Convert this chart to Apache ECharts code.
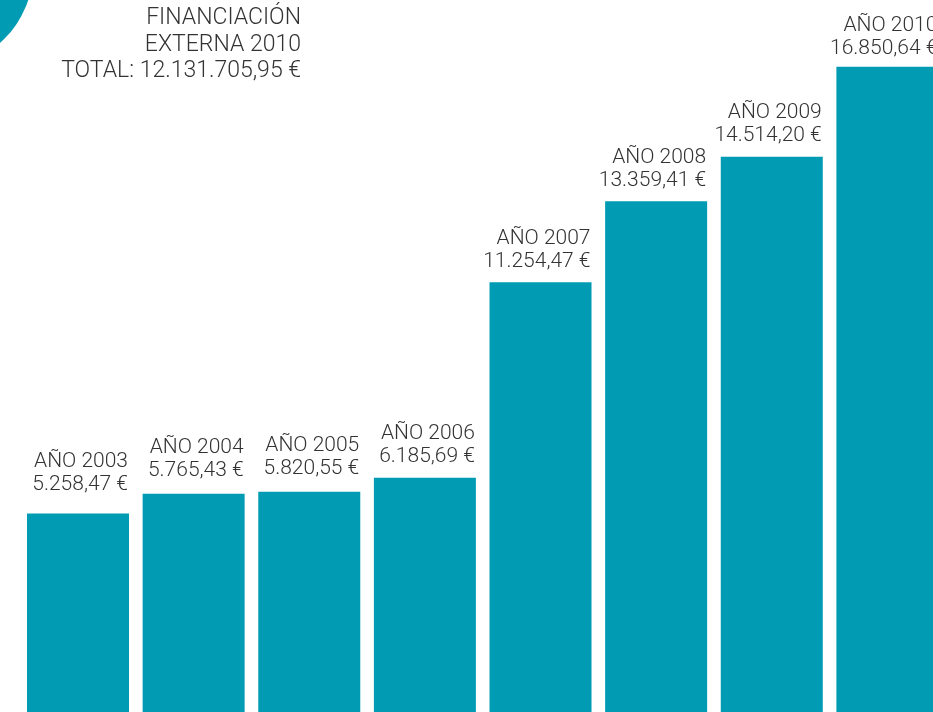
<!DOCTYPE html>
<html>
<head>
<meta charset="utf-8">
<style>html,body{margin:0;padding:0;background:#fff;overflow:hidden;width:933px;height:712px;}#c{width:960px;height:730px;}</style>
<script src="https://cdn.jsdelivr.net/npm/echarts@6/dist/echarts.min.js"></script>
</head>
<body>
<div id="c"></div>
<script>
const years = ['2003', '2004', '2005', '2006', '2007', '2008', '2009', '2010'];
const values = [5258.47, 5765.43, 5820.55, 6185.69, 11254.47, 13359.41, 14514.20, 16850.64];
const titleLines = ['FINANCIACIÓN', 'EXTERNA 2010', 'TOTAL: 12.131.705,95 €'];
const yearPrefix = 'AÑO ';

// layout only: gap in px between bar top and the value line of each label
const labelGap = [31, 26, 25, 23, 23, 23, 24, 20];

function fmt(v) {
  const parts = v.toFixed(2).split('.');
  const intPart = parts[0].replace(/\B(?=(\d{3})+(?!\d))/g, '.');
  return intPart + ',' + parts[1] + ' €';
}

const TEAL = '#019CB3';
const FONT = 'Roboto';
const chart = echarts.init(document.getElementById('c'), null, {renderer: 'canvas'});
chart.setOption({
  animation: false,
  backgroundColor: '#ffffff',
  grid: {left: 20.2, top: 0, width: 925, height: 716, containLabel: false},
  xAxis: {type: 'category', data: years, show: false, boundaryGap: true},
  yAxis: {type: 'value', min: 0, max: 18583, show: false},
  series: [{
    type: 'bar',
    data: values.map((v, i) => ({value: v, label: {position: [101, -18 + (32 - labelGap[i])]}})),
    barWidth: 102,
    itemStyle: {color: TEAL},
    label: {
      show: true,
      align: 'right',
      verticalAlign: 'bottom',
      fontFamily: FONT,
      fontWeight: 300,
      fontSize: 21,
      lineHeight: 23,
      color: '#333333',
      formatter: p => yearPrefix + years[p.dataIndex] + '\n' + fmt(values[p.dataIndex])
    }
  }],
  graphic: [
    {type: 'circle', shape: {cx: -64, cy: -30, r: 97}, style: {fill: TEAL}},
    {type: 'text', x: 301, y: 5, style: {
      text: titleLines.join('\n'), align: 'right', verticalAlign: 'top',
      font: '300 23px Roboto', lineHeight: 26.5, fill: '#333333'
    }}
  ]
});
</script>
</body>
</html>
